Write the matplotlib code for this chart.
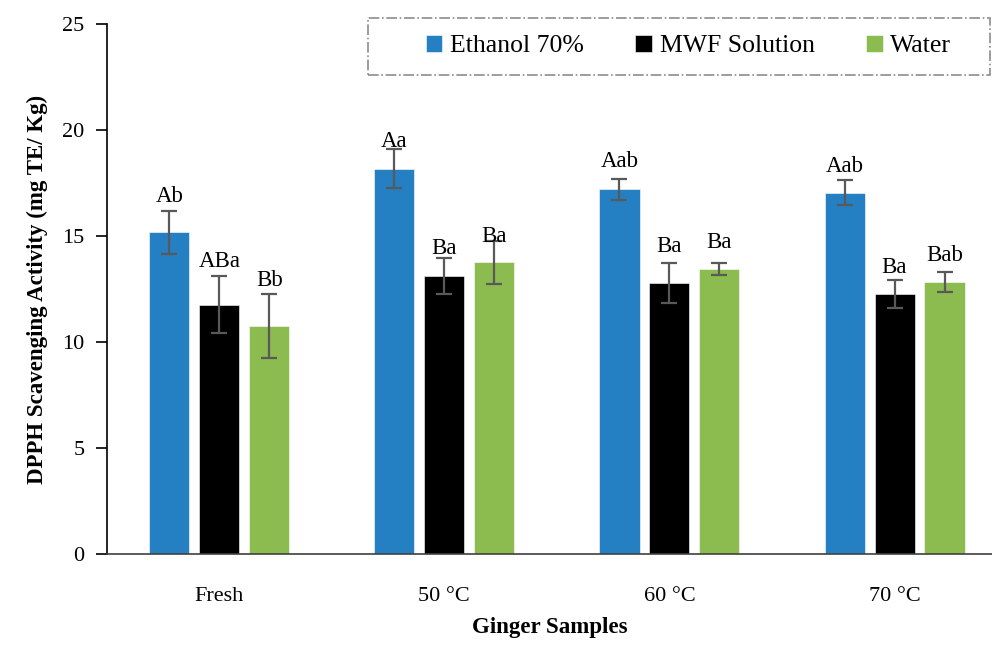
import numpy as np
import matplotlib
matplotlib.use("Agg")
import matplotlib.pyplot as plt
from matplotlib.patches import Rectangle

plt.rcParams["font.family"] = ["Liberation Serif", "DejaVu Serif"]

groups = ["Fresh", "50 °C", "60 °C", "70 °C"]
series = ["Ethanol 70%", "MWF Solution", "Water"]
colors = ["#2480c3", "#000000", "#8cbb4f"]

ethanol = [15.18, 18.18, 17.20, 17.03]
mwf = [11.76, 13.12, 12.77, 12.26]
water = [10.75, 13.76, 13.43, 12.83]

ethanol_err = [1.02, 0.90, 0.51, 0.59]
mwf_err = [1.33, 0.84, 0.94, 0.67]
water_err = [1.50, 1.01, 0.28, 0.49]

ethanol_letters = ["Ab", "Aa", "Aab", "Aab"]
mwf_letters = ["ABa", "Ba", "Ba", "Ba"]
water_letters = ["Bb", "Ba", "Ba", "Bab"]

# heights of the significance letters (centre of text)
ethanol_lab_y = [16.85, 19.45, 18.5, 18.3]
mwf_lab_y = [13.8, 14.4, 14.5, 13.5]
water_lab_y = [12.9, 15.0, 14.7, 14.1]

values = [ethanol, mwf, water]
errs = [ethanol_err, mwf_err, water_err]
letters = [ethanol_letters, mwf_letters, water_letters]
lab_y = [ethanol_lab_y, mwf_lab_y, water_lab_y]

fig = plt.figure(figsize=(9.92, 6.48), dpi=100)
ax = fig.add_axes([0.1076, 0.145, 0.8924, 0.818])

x = np.arange(len(groups))
width = 0.178
step = 0.222
for i, (vals, err, col, name) in enumerate(zip(values, errs, colors, series)):
    pos = x + (i - 1) * step
    ax.bar(pos, vals, width, color=col, label=name,
           edgecolor="white", linewidth=0.4, zorder=2)
    ax.errorbar(pos, vals, yerr=err, fmt="none", ecolor="#595959",
                elinewidth=1.6, capsize=5.5, capthick=1.6, zorder=3)
    for p, t, yy in zip(pos, letters[i], lab_y[i]):
        ax.text(p, yy, t, ha="center", va="center", fontsize=16.5, zorder=4)

ax.set_xlim(-0.5, 3.433)
ax.set_ylim(0, 25)
ax.set_yticks([0, 5, 10, 15, 20, 25])
ax.set_xticks(x)
ax.set_xticklabels(groups)
ax.tick_params(axis="y", direction="out", length=8, width=1.2, labelsize=16, pad=8)
ax.tick_params(axis="x", length=0, labelsize=16, pad=24)
ax.spines["top"].set_visible(False)
ax.spines["right"].set_visible(False)
ax.spines["left"].set_linewidth(1.2)
ax.spines["bottom"].set_linewidth(1.2)
ax.spines["bottom"].set_color("#404040")

ax.set_ylabel("DPPH Scavenging Activity (mg TE/ Kg)", fontsize=16.5,
              fontweight="bold", labelpad=10)
ax.set_xlabel("Ginger Samples", fontsize=16.5, fontweight="bold", labelpad=8)

leg = fig.legend(loc="center", ncol=3, bbox_to_anchor=(0.694, 0.929),
                 bbox_transform=fig.transFigure, fontsize=18.5,
                 handlelength=0.65, handleheight=0.65, handletextpad=0.3,
                 frameon=False, columnspacing=2.0)

# dash-dot box round the legend
fig.patches.append(Rectangle((0.371, 0.884), 0.627, 0.088, transform=fig.transFigure,
                             fill=False, linestyle="-.", edgecolor="#8c8c8c",
                             linewidth=1.2))

fig.savefig("out.png", dpi=100)
